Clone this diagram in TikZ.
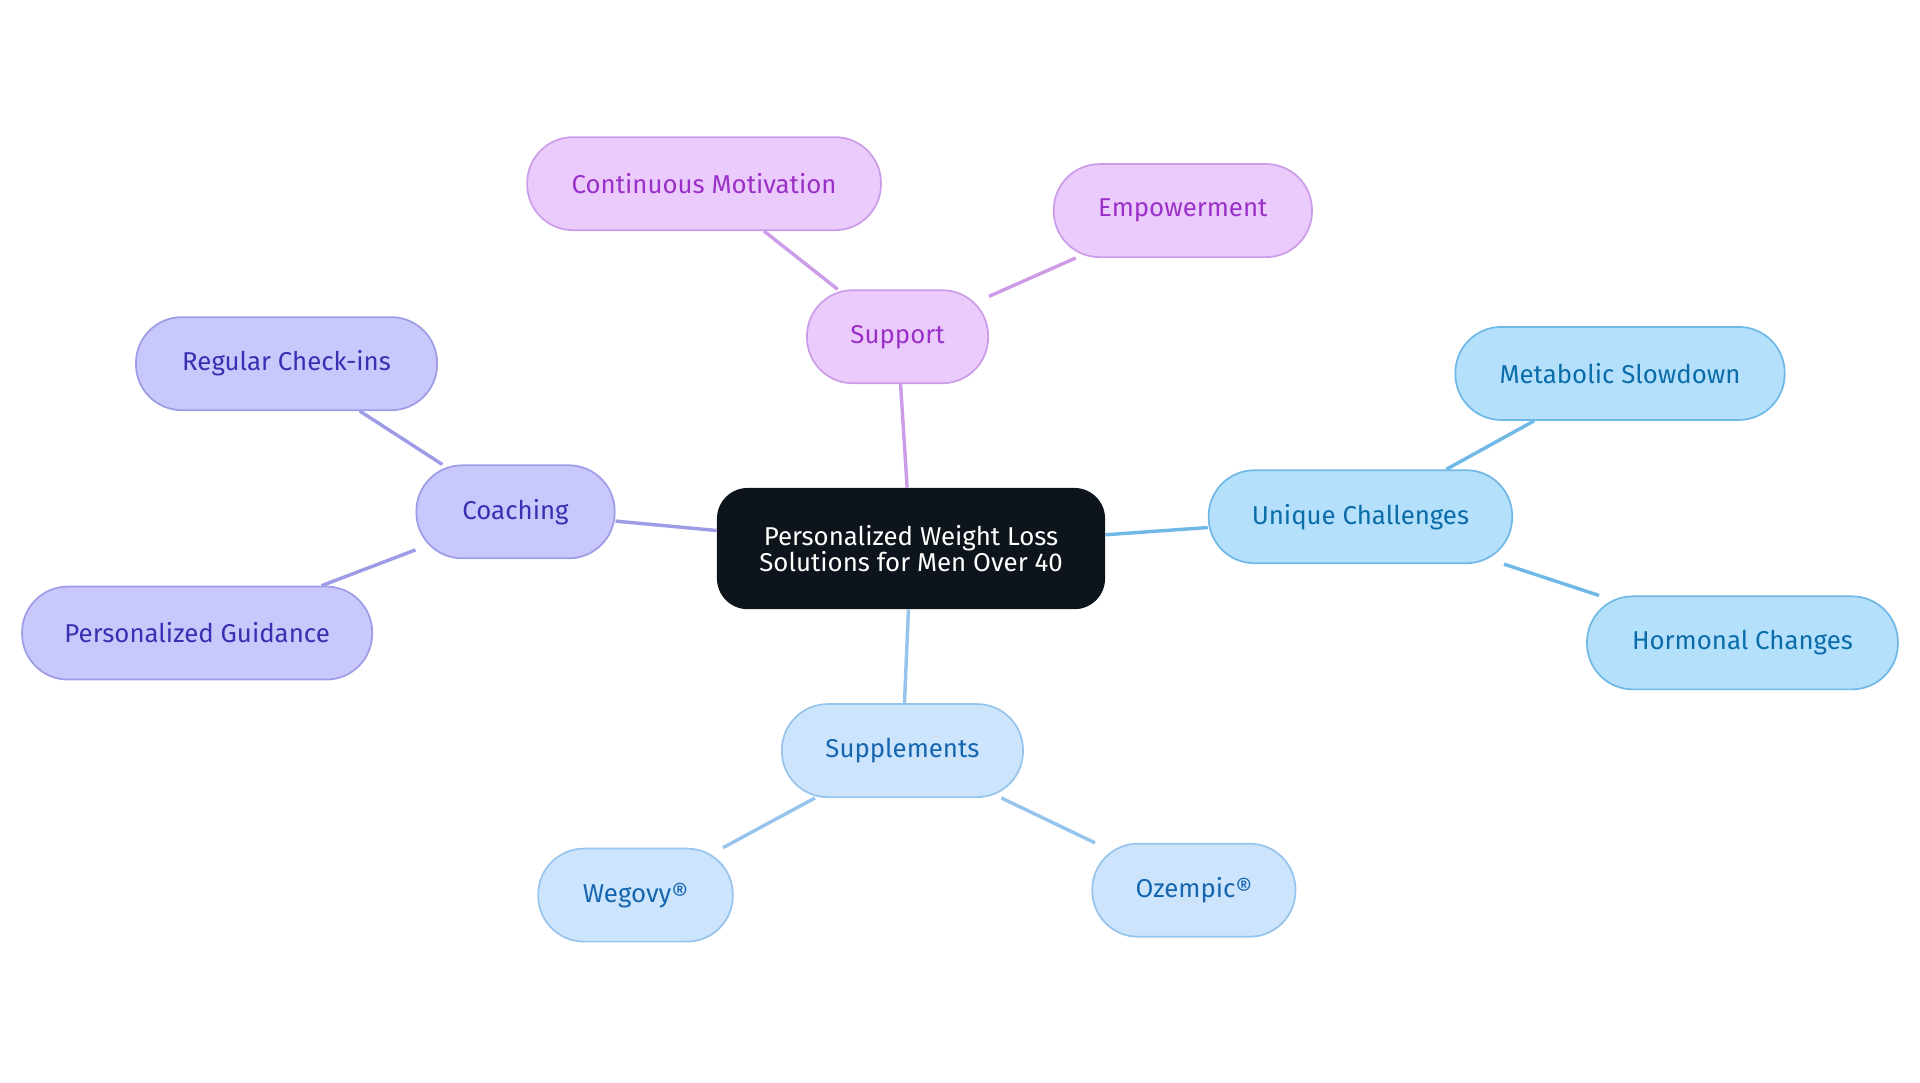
\documentclass[tikz,border=0pt]{standalone}
\usepackage{fontspec}
\setmainfont{Fira Sans}
\usetikzlibrary{backgrounds}
\definecolor{rootfill}{HTML}{0D141C}
\definecolor{supfill}{HTML}{EBCBFC}
\definecolor{supline}{HTML}{CC9CE8}
\definecolor{suptext}{HTML}{9A30C8}
\definecolor{coafill}{HTML}{C9C8FC}
\definecolor{coaline}{HTML}{9E9CE6}
\definecolor{coatext}{HTML}{3A2FB2}
\definecolor{unifill}{HTML}{B4E0FC}
\definecolor{uniline}{HTML}{70B8E6}
\definecolor{unitext}{HTML}{0A6CA8}
\definecolor{supplfill}{HTML}{CDE5FC}
\definecolor{supplline}{HTML}{96C4EC}
\definecolor{suppltext}{HTML}{1565B0}
\tikzset{
  pill/.style={draw, line width=0.8pt, rounded corners=0.75cm, minimum height=1.52cm,
    inner sep=0pt, font=\fontsize{12}{14}\selectfont},
  support/.style={pill, fill=supfill, draw=supline, text=suptext},
  coaching/.style={pill, fill=coafill, draw=coaline, text=coatext},
  unique/.style={pill, fill=unifill, draw=uniline, text=unitext},
  suppl/.style={pill, fill=supplfill, draw=supplline, text=suppltext},
  link/.style={line width=1.6pt}
}
\begin{document}
\begin{tikzpicture}[x=0.02cm, y=-0.02cm]
\useasboundingbox (0,0) rectangle (1568,884);
% centre
\node[fill=rootfill, text=white, rounded corners=0.5cm, minimum width=6.34cm, minimum height=1.98cm,
  align=center, font=\fontsize{12}{12.5}\selectfont] (root) at (744,448)
  {Personalized Weight Loss\\Solutions for Men Over 40};
% support
\node[support, minimum width=2.96cm] (support) at (733,275) {Support};
\node[support, minimum width=5.78cm] (motivation) at (575,150) {Continuous Motivation};
\node[support, minimum width=4.22cm] (empower) at (966,172) {Empowerment};
% coaching
\node[coaching, minimum width=3.24cm] (coaching) at (421,418) {Coaching};
\node[coaching, minimum width=4.92cm] (checkins) at (234,297) {Regular Check-ins};
\node[coaching, minimum width=5.72cm] (guidance) at (161,517) {Personalized Guidance};
% unique challenges
\node[unique, minimum width=4.96cm] (unique) at (1111,422) {Unique Challenges};
\node[unique, minimum width=5.38cm] (metabolic) at (1323,305) {Metabolic Slowdown};
\node[unique, minimum width=5.08cm] (hormonal) at (1423,525) {Hormonal Changes};
% supplements
\node[suppl, minimum width=3.94cm] (suppl) at (737,613) {Supplements};
\node[suppl, minimum width=3.18cm] (wegovy) at (519,731) {Wegovy®};
\node[suppl, minimum width=3.32cm] (ozempic) at (975,727) {Ozempic®};
\begin{scope}[on background layer]
\draw[link, supline] (root) -- (support);
\draw[link, supline] (support) -- (motivation);
\draw[link, supline] (support) -- (empower);
\draw[link, coaline] (root) -- (coaching);
\draw[link, coaline] (coaching) -- (checkins);
\draw[link, coaline] (coaching) -- (guidance);
\draw[link, uniline] (root) -- (unique);
\draw[link, uniline] (unique) -- (metabolic);
\draw[link, uniline] (unique) -- (hormonal);
\draw[link, supplline] (root) -- (suppl);
\draw[link, supplline] (suppl) -- (wegovy);
\draw[link, supplline] (suppl) -- (ozempic);
\end{scope}
\end{tikzpicture}
\end{document}
